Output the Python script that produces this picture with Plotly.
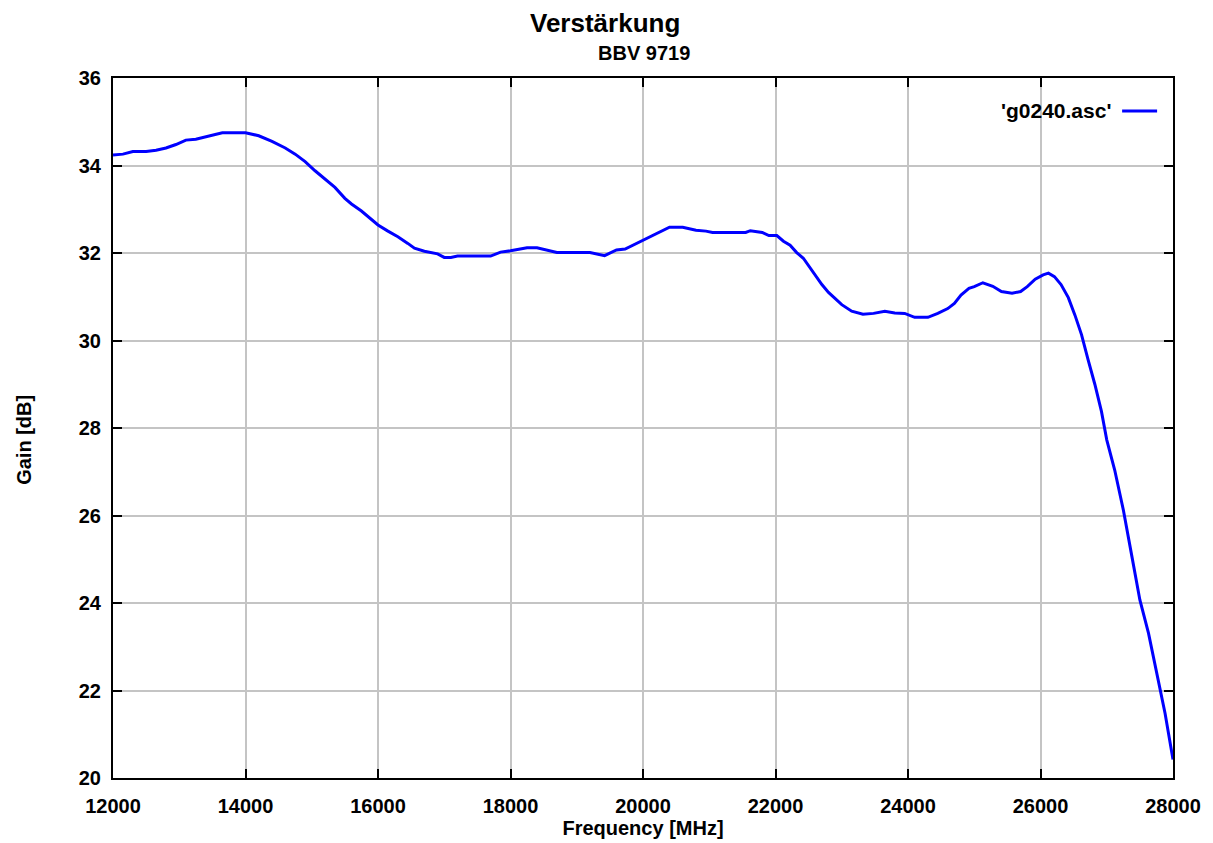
import plotly.graph_objects as go

freq_mhz = [12000, 12150, 12300, 12500, 12650, 12800, 12950, 13100, 13250, 13450,
            13650, 14000, 14200, 14400, 14600, 14750, 14900, 15050, 15250, 15350,
            15500, 15600, 15750, 15850, 16000, 16150, 16300, 16450, 16550, 16700,
            16900, 17000, 17100, 17200, 17700, 17850, 18000, 18250, 18400, 18700,
            19200, 19420, 19600, 19730, 19850, 19950, 20100, 20250, 20400, 20600,
            20800, 20950, 21050, 21550, 21620, 21800, 21900, 22020, 22120, 22220,
            22320, 22420, 22500, 22600, 22700, 22800, 22900, 23000, 23150, 23320,
            23480, 23650, 23800, 23950, 24100, 24300, 24450, 24600, 24700, 24800,
            24920, 25000, 25130, 25280, 25410, 25570, 25700, 25800, 25920, 26040,
            26120, 26210, 26310, 26420, 26520, 26620, 26720, 26820, 26920, 27000,
            27120, 27250, 27380, 27500, 27630, 27750, 27880, 28000]
gain_db = [34.24, 34.26, 34.32, 34.32, 34.35, 34.40, 34.48, 34.58, 34.60, 34.68,
           34.75, 34.75, 34.68, 34.55, 34.40, 34.26, 34.09, 33.88, 33.62, 33.50,
           33.25, 33.12, 32.96, 32.84, 32.64, 32.50, 32.37, 32.22, 32.11, 32.04,
           31.98, 31.90, 31.90, 31.93, 31.93, 32.02, 32.05, 32.12, 32.12, 32.01,
           32.01, 31.94, 32.07, 32.09, 32.18, 32.27, 32.38, 32.48, 32.59, 32.59,
           32.52, 32.50, 32.47, 32.47, 32.51, 32.47, 32.40, 32.40, 32.27, 32.18,
           32.01, 31.88, 31.70, 31.50, 31.28, 31.10, 30.95, 30.82, 30.67, 30.60,
           30.62, 30.67, 30.63, 30.62, 30.53, 30.53, 30.62, 30.73, 30.85, 31.04,
           31.19, 31.23, 31.32, 31.24, 31.12, 31.08, 31.12, 31.23, 31.40, 31.50,
           31.54, 31.46, 31.28, 30.98, 30.58, 30.13, 29.55, 29.00, 28.38, 27.73,
           27.04, 26.13, 25.06, 24.07, 23.31, 22.39, 21.48, 20.42]

x_ticks = [12000, 14000, 16000, 18000, 20000, 22000, 24000, 26000, 28000]
x_tick_labels = ["12000", "14000", "16000", "18000", "20000", "22000", "24000", "26000", "28000"]
y_ticks = [20, 22, 24, 26, 28, 30, 32, 34, 36]
y_tick_labels = ["20", "22", "24", "26", "28", "30", "32", "34", "36"]

title_text = "Verstärkung"
subtitle_text = "BBV 9719"
series_name = "'g0240.asc'"
x_title = "Frequency [MHz]"
y_title = "Gain [dB]"

FONT = "Liberation Sans, Arial, sans-serif"
fsz = 20

fig = go.Figure()
fig.add_trace(go.Scatter(x=freq_mhz, y=gain_db, mode="lines", name=series_name,
                         line=dict(color="#0000ff", width=3), showlegend=False))

axis_common = dict(
    showgrid=True, gridcolor="#c4c4c4", gridwidth=1.5,
    showline=True, linecolor="black", linewidth=2, mirror="allticks",
    ticks="inside", ticklen=9, tickwidth=2, tickcolor="black",
    zeroline=False, automargin=False,
    tickfont=dict(family=FONT, size=fsz, color="black", weight="bold"),
)

fig.update_xaxes(range=[12000, 28000], tickvals=x_ticks, ticktext=x_tick_labels,
                 ticklabelstandoff=9, **axis_common,
                 title=dict(text=x_title, standoff=5,
                            font=dict(family=FONT, size=fsz, color="black", weight="bold")))
fig.update_yaxes(range=[20, 36], tickvals=y_ticks, ticktext=y_tick_labels,
                 ticklabelstandoff=6, **axis_common)

fig.update_layout(
    width=1205, height=835,
    margin=dict(l=105, r=40, t=70, b=65, pad=0, autoexpand=False),
    plot_bgcolor="white", paper_bgcolor="white",
    showlegend=False,
    annotations=[
        dict(text=title_text, x=0.4645, y=1.078, xref="paper", yref="paper",
             showarrow=False, xanchor="center", yanchor="middle",
             font=dict(family=FONT, size=26, color="black", weight="bold")),
        dict(text=subtitle_text, x=0.501, y=1.036, xref="paper", yref="paper",
             showarrow=False, xanchor="center", yanchor="middle",
             font=dict(family=FONT, size=fsz, color="black", weight="bold")),
        dict(text=y_title, x=-0.084, y=0.483, xref="paper", yref="paper",
             showarrow=False, textangle=-90, xanchor="center", yanchor="middle",
             font=dict(family=FONT, size=fsz, color="black", weight="bold")),
        dict(text=series_name, x=0.9434, y=0.953, xref="paper", yref="paper",
             showarrow=False, xanchor="right", yanchor="middle",
             font=dict(family=FONT, size=21, color="black", weight="bold")),
    ],
    shapes=[
        dict(type="line", xref="paper", yref="paper", x0=0.952, x1=0.985,
             y0=0.953, y1=0.953, line=dict(color="#0000ff", width=3)),
    ],
)

fig.write_html("out.html")
